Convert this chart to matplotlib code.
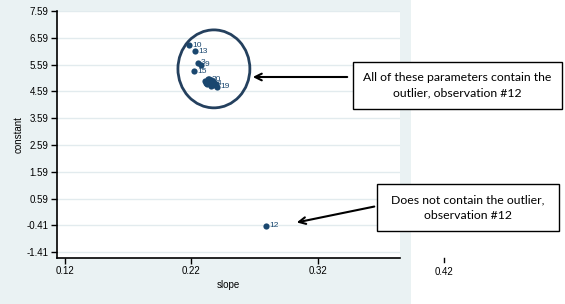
import matplotlib
matplotlib.use('Agg')
import matplotlib.pyplot as plt
from matplotlib.patches import Ellipse, Rectangle

plt.rcParams['font.family'] = ['Liberation Sans', 'DejaVu Sans']

# regression results per dropped observation
obs = ['10', '13', '3', '9', '15', '1', '2', '5', '6', '7', '8', '11', '14',
       '16', '17', '18', '20', '4', '19', '12']
slope = [0.218, 0.2228, 0.2251, 0.2275, 0.222, 0.2307, 0.2322, 0.2346, 0.2362,
         0.2338, 0.2354, 0.2386, 0.2315, 0.2370, 0.2394, 0.2354, 0.2330, 0.2378,
         0.2402, 0.2794]
constant = [6.32, 6.09, 5.65, 5.58, 5.34, 4.97, 4.86, 4.93, 4.82, 5.07, 5.00,
            4.82, 4.89, 4.97, 4.86, 4.78, 5.04, 4.89, 4.76, -0.42]
shown = ['10', '13', '3', '9', '15', '20', '4', '19', '12']

xticks = [0.12, 0.22, 0.32]
yticks = [-1.41, -0.41, 0.59, 1.59, 2.59, 3.59, 4.59, 5.59, 6.59, 7.59]

navy = '#1A476F'
W, H = 565, 304


def fp(x, y):
    # pixel position (from top-left) -> figure fraction
    return (x / W, 1 - y / H)


fig = plt.figure(figsize=(5.65, 3.04), dpi=100)
fig.patch.set_facecolor('white')
fig.patches.append(Rectangle((0, 0), 411 / W, 1, transform=fig.transFigure,
                             facecolor='#EAF2F3', edgecolor='none', zorder=-1))

ax = fig.add_axes([57 / W, 46 / H, 343 / W, 247 / H])
ax.set_facecolor('white')
ax.set_xlim(0.1137, 0.385)
ax.set_ylim(-1.63, 7.59)

for y in yticks:
    ax.axhline(y, color='#E2EBEE', lw=1, zorder=1)

ax.scatter(slope, constant, s=20, color=navy, zorder=3, linewidths=0)
for s, c, o in zip(slope, constant, obs):
    if o in shown:
        ax.text(s + 0.0026, c, o, fontsize=6, color=navy, va='center', zorder=4)

ax.set_xticks(xticks)
ax.set_xticklabels(['%.2f' % v for v in xticks])
ax.set_yticks(yticks)
ax.set_yticklabels(['%.2f' % v for v in yticks])
ax.tick_params(labelsize=7, length=4, width=1, color='black', pad=2)
for side in ['top', 'right']:
    ax.spines[side].set_visible(False)
for side in ['left', 'bottom']:
    ax.spines[side].set_linewidth(1.2)
ax.set_xlabel('slope', fontsize=7, labelpad=3)
ax.set_ylabel('constant', fontsize=7, labelpad=2)

# stray 0.42 tick outside the plot region
tr = ax.get_xaxis_transform()
ax.plot([0.42, 0.42], [0, -0.016], transform=tr, color='black', lw=1, clip_on=False)
ax.text(0.42, -0.035, '0.42', transform=tr, fontsize=7, ha='center', va='top')

# circle round the cluster
ax.add_patch(Ellipse((0.2378, 5.43), 0.0569, 2.91, fill=False,
                     edgecolor='#24405E', lw=2, zorder=5))

# text boxes
fig.patches.append(Rectangle(fp(353, 109), 209 / W, 47 / H, transform=fig.transFigure,
                             facecolor='white', edgecolor='black', lw=1, zorder=5))
fig.text(*fp(457, 85.5), 'All of these parameters contain the\noutlier, observation #12',
         family=['Lato', 'DejaVu Sans'], fontsize=8.8, ha='center', va='center',
         linespacing=1.5, zorder=6)
fig.patches.append(Rectangle(fp(377, 231), 182 / W, 47 / H, transform=fig.transFigure,
                             facecolor='white', edgecolor='black', lw=1, zorder=5))
fig.text(*fp(468, 207.5), 'Does not contain the outlier,\nobservation #12',
         family=['Lato', 'DejaVu Sans'], fontsize=8.8, ha='center', va='center',
         linespacing=1.5, zorder=6)

# arrows
fig.add_artist(matplotlib.patches.FancyArrowPatch(
    fp(350, 77), fp(250, 77), transform=fig.transFigure, arrowstyle='->',
    mutation_scale=12, lw=1.5, color='black'))
fig.add_artist(matplotlib.patches.FancyArrowPatch(
    fp(377, 206), fp(294, 223), transform=fig.transFigure, arrowstyle='->',
    mutation_scale=12, lw=1.5, color='black'))

fig.savefig('out.png', dpi=100)
